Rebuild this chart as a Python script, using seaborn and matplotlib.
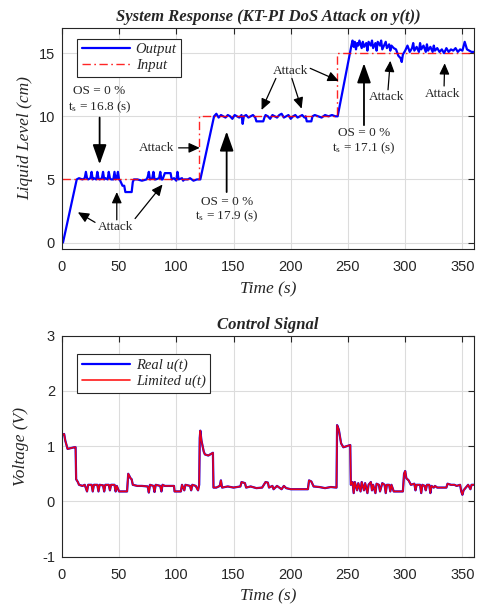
import numpy as np
import pandas as pd
import seaborn as sns
import matplotlib
matplotlib.use('Agg')
import matplotlib.pyplot as plt

# ---- data ----
# system output y(t)
y_time = [0, 1, 13, 15, 18, 20, 21, 22, 23, 25, 26, 27, 28, 30, 31, 32, 33, 35, 36, 37, 38,
          40, 41, 42, 43, 45, 46, 47, 48, 49, 50, 51, 53, 54.5, 55.5, 57, 61, 62, 63, 66, 70,
          74, 75, 76, 77, 79, 80, 81, 82, 85, 86, 87, 88, 90, 91, 95, 96, 98, 100, 101, 102,
          105, 106, 107, 110, 112, 115, 118, 121,
          133, 135, 137, 139, 141, 143, 145, 147, 149, 151, 153, 155, 157, 158, 159, 161, 163,
          165, 167, 169, 170, 171, 176, 177, 178, 180, 182, 184, 186, 188, 190, 192, 194, 196,
          198, 200, 202, 204, 206, 208, 210, 212, 213, 214, 218, 219, 221, 224, 227, 230, 233,
          236, 239, 241,
          253, 254, 255, 256, 257, 258, 259, 260, 262, 263, 264, 266, 267, 268, 270, 271, 272,
          274, 275, 276, 278, 279, 280, 282, 283, 284, 286, 287, 288, 290, 292, 294, 296, 297,
          298, 300, 302, 304, 306, 307, 308, 310, 312, 313, 314, 316, 318, 319, 320, 322, 324,
          325, 326, 328, 330, 332, 334, 336, 338, 340, 342, 344, 346, 348, 350, 352, 354, 356,
          358, 360]
y_value = [0, 0, 5.0, 5.1, 5.0, 5.1, 5.6, 5.1, 5.0, 5.1, 5.6, 5.0, 5.1, 5.0, 5.6, 5.1, 5.0, 5.1, 5.6, 5.0, 5.1,
           5.0, 5.6, 5.1, 5.0, 5.0, 5.6, 5.0, 5.1, 5.6, 5.0, 4.9, 4.5, 4.5, 4.0, 4.0, 4.0, 4.8, 5.0, 5.0, 4.9,
           5.0, 5.2, 5.6, 5.0, 5.1, 5.6, 5.0, 5.0, 5.1, 5.6, 5.0, 5.0, 5.5, 5.5, 5.5, 5.0, 5.1, 4.9, 5.6, 5.0,
           5.1, 4.9, 5.0, 5.0, 5.1, 4.9, 5.0, 5.0,
           10.0, 10.2, 9.9, 10.1, 10.0, 9.9, 10.1, 10.0, 9.8, 10.1, 10.0, 9.9, 10.1, 9.4, 10.0, 10.1, 9.9,
           10.0, 10.1, 9.9, 9.6, 9.6, 9.6, 9.9, 10.1, 10.0, 9.8, 10.1, 10.0, 9.9, 10.1, 10.2, 9.9, 10.0,
           10.1, 9.8, 10.0, 10.1, 9.9, 10.0, 10.1, 9.9, 10.0, 9.6, 9.6, 10.0, 10.1, 10.0, 9.9, 10.1, 10.0,
           10.1, 10.0, 10.0,
           15.6, 16.0, 15.5, 15.9, 15.3, 15.8, 15.6, 16.0, 15.4, 15.9, 15.5, 15.8, 15.2, 15.9, 15.6, 16.0, 15.4,
           15.8, 15.2, 15.9, 15.6, 16.0, 15.3, 15.7, 15.9, 15.4, 15.7, 15.2, 15.6, 15.4, 15.3, 14.8, 14.6, 14.3,
           14.9, 15.2, 15.6, 15.1, 15.4, 15.8, 15.2, 15.5, 15.1, 15.8, 15.3, 15.6, 15.1, 15.7, 15.2, 15.5, 15.1,
           15.6, 15.2, 15.4, 15.1, 15.3, 15.0, 15.4, 15.1, 15.3, 15.2, 15.4, 15.1, 15.3, 15.2, 15.9, 15.3, 15.2,
           15.1, 15.1]

# reference input r(t)
r_time = [0, 120, 240, 360]
r_value = [5, 10, 15, 15]

# control signal u(t) (real and limited overlap)
u_time = [0, 2, 3, 5, 11, 12, 12.5, 14, 15, 18, 20, 22, 23, 26, 27, 28, 31, 32, 33, 36, 37, 38,
          41, 42, 43, 46, 47, 48, 50, 57, 58, 60, 61, 62, 66, 70, 75, 76, 77, 80, 81, 82, 86, 87,
          88, 90, 98, 98.5, 104, 105, 107, 108, 112, 113, 114, 117, 119, 120, 120.5, 121, 122,
          124, 125, 128, 132, 132.5, 135, 138, 139, 140, 145, 150, 156, 157, 160, 161, 165, 170,
          175, 178, 180, 181, 184, 185, 188, 190, 192, 194, 196, 200, 215, 216, 218, 220, 225,
          230, 235, 240, 240.5, 242, 244, 246, 252, 252.5, 254, 255, 256, 258, 259, 261, 262,
          264, 265, 267, 268, 270, 271, 272, 274, 275, 277, 278, 280, 282, 283, 284, 286, 287,
          288, 290, 298, 299, 300, 301, 303, 305, 308, 309, 310, 313, 314, 315, 317, 318, 319,
          321, 322, 323, 325, 326, 328, 330, 336, 337, 340, 343, 345, 348, 349, 350, 351, 353,
          355, 357, 358, 360]
u_value = [1.2, 1.22, 1.1, 0.95, 0.98, 0.98, 0.4, 0.35, 0.3, 0.28, 0.3, 0.18, 0.3, 0.3, 0.18, 0.3, 0.3, 0.18, 0.3, 0.29, 0.18, 0.3,
           0.3, 0.2, 0.3, 0.3, 0.18, 0.28, 0.18, 0.18, 0.5, 0.42, 0.4, 0.3, 0.28, 0.28, 0.27, 0.16, 0.3, 0.28, 0.17, 0.3, 0.28, 0.18,
           0.3, 0.28, 0.28, 0.18, 0.18, 0.3, 0.2, 0.3, 0.28, 0.2, 0.3, 0.28, 0.2, 0.3, 1.15, 1.28, 1.1,
           0.9, 0.85, 0.83, 0.88, 0.25, 0.25, 0.28, 0.38, 0.25, 0.27, 0.25, 0.27, 0.35, 0.33, 0.25, 0.27, 0.24,
           0.25, 0.35, 0.34, 0.25, 0.28, 0.22, 0.28, 0.25, 0.22, 0.28, 0.24, 0.22, 0.22, 0.38, 0.36, 0.27, 0.26,
           0.24, 0.26, 0.25, 1.38, 1.3, 1.05, 0.98, 1.02, 0.3, 0.35, 0.15, 0.35, 0.2, 0.33, 0.18, 0.35,
           0.2, 0.33, 0.15, 0.3, 0.35, 0.2, 0.3, 0.15, 0.32, 0.3, 0.18, 0.33, 0.3, 0.15, 0.3, 0.3, 0.18,
           0.3, 0.18, 0.18, 0.5, 0.55, 0.42, 0.38, 0.3, 0.32, 0.2, 0.3, 0.3, 0.15, 0.3, 0.28, 0.2, 0.3,
           0.3, 0.15, 0.28, 0.25, 0.28, 0.25, 0.25, 0.25, 0.32, 0.3, 0.3, 0.28, 0.3, 0.18, 0.12, 0.2, 0.25,
           0.3, 0.22, 0.3, 0.3]

y_df = pd.DataFrame({'t': y_time, 'y': y_value})
r_df = pd.DataFrame({'t': r_time, 'r': r_value})
u_df = pd.DataFrame({'t': u_time, 'u': u_value})

# ---- style ----
sns.set_style('white')
plt.rcParams['font.family'] = ['Liberation Sans', 'DejaVu Sans']
plt.rcParams['mathtext.default'] = 'regular'
plt.rcParams['axes.unicode_minus'] = False
serif = ['Liberation Serif', 'DejaVu Serif']

fig = plt.figure(figsize=(4.87, 6.07), dpi=100)
ax1 = fig.add_axes([0.127, 0.590, 0.846, 0.364])
ax2 = fig.add_axes([0.127, 0.083, 0.846, 0.364])


def matlab_axes(ax):
    ax.grid(True, color='#dcdcdc', lw=0.8)
    ax.set_axisbelow(True)
    ax.tick_params(direction='in', top=True, right=True, labelsize=10.5,
                   length=4, width=0.8, colors='#262626')
    ax.tick_params(axis='x', pad=8)
    ax.tick_params(axis='y', pad=5)
    for s in ax.spines.values():
        s.set_color('#262626')
        s.set_linewidth(0.8)
    ax.set_xlim(0, 360)
    ax.set_xticks([0, 50, 100, 150, 200, 250, 300, 350])
    ax.set_xlabel('Time (s)', family=serif, style='italic', fontsize=12.5,
                  color='#262626', labelpad=5)


# 1. System response
sns.lineplot(data=y_df, x='t', y='y', ax=ax1, color='#0000ff', lw=1.6,
             estimator=None, sort=False, label='Output')
sns.lineplot(data=r_df, x='t', y='r', ax=ax1, color='#ff0000', lw=1.0,
             estimator=None, drawstyle='steps-post', dashes=False, label='Input')
ax1.lines[-1].set_linestyle((0, (6, 2.5, 1.2, 2.5)))
ax1.lines[-1].set_alpha(0.85)
matlab_axes(ax1)
ax1.set_ylim(-0.5, 17)
ax1.set_yticks([0, 5, 10, 15])
ax1.set_ylabel('Liquid Level (cm)', family=serif, style='italic', fontsize=12.5,
               color='#262626', labelpad=4)
ax1.set_title('System Response (KT-PI DoS Attack on y(t))', family=serif,
              style='italic', weight='bold', fontsize=12, pad=5)
leg1 = ax1.legend(loc='upper left', bbox_to_anchor=(0.02, 0.985), fancybox=False,
                  edgecolor='#262626', framealpha=1, handlelength=3.3,
                  borderpad=0.3, labelspacing=0.2, handletextpad=0.4,
                  prop={'family': serif, 'style': 'italic', 'size': 10.5})
leg1.get_frame().set_linewidth(0.8)

note = dict(family=serif, fontsize=9.5, ha='center', va='center')
big = dict(arrowstyle='-|>,head_length=0.85,head_width=0.3', color='k', lw=1.3,
           mutation_scale=14, shrinkA=0, shrinkB=0)
small = dict(arrowstyle='-|>,head_length=0.55,head_width=0.25', color='k', lw=0.9,
             mutation_scale=12, shrinkA=0, shrinkB=0)

# settling annotations
ax1.text(33, 12.0, 'OS = 0 %', **note)
ax1.text(33, 10.75, r't$_{s}$ = 16.8 (s)', **note)
ax1.annotate('', xy=(33, 6.2), xytext=(33, 9.9), arrowprops=big)
ax1.text(144, 3.2, 'OS = 0 %', **note)
ax1.text(144, 2.05, r't$_{s}$ = 17.9 (s)', **note)
ax1.annotate('', xy=(144, 8.8), xytext=(144, 4.0), arrowprops=big)
ax1.text(264, 8.7, 'OS = 0 %', **note)
ax1.text(264, 7.5, r't$_{s}$ = 17.1 (s)', **note)
ax1.annotate('', xy=(264, 14.2), xytext=(264, 9.3), arrowprops=big)

# attack annotations
ax1.text(47, 1.2, 'Attack', **note)
ax1.annotate('', xy=(14, 2.4), xytext=(29, 1.6), arrowprops=small)
ax1.annotate('', xy=(48, 4.0), xytext=(48, 1.8), arrowprops=small)
ax1.annotate('', xy=(88, 4.6), xytext=(64, 1.9), arrowprops=small)
ax1.text(83, 7.5, 'Attack', **note)
ax1.annotate('', xy=(120.5, 7.5), xytext=(102, 7.5), arrowprops=small)
ax1.text(200, 13.6, 'Attack', **note)
ax1.annotate('', xy=(174.5, 10.5), xytext=(187, 13.0), arrowprops=small)
ax1.annotate('', xy=(209.5, 10.6), xytext=(201, 13.0), arrowprops=small)
ax1.annotate('', xy=(242, 12.8), xytext=(217, 13.8), arrowprops=small)
ax1.text(284, 11.5, 'Attack', **note)
ax1.annotate('', xy=(287, 14.4), xytext=(285, 12.1), arrowprops=small)
ax1.text(333, 11.8, 'Attack', **note)
ax1.annotate('', xy=(334.5, 14.2), xytext=(334, 12.4), arrowprops=small)

# 2. Control signal
sns.lineplot(data=u_df, x='t', y='u', ax=ax2, color='#0000ff', lw=1.6,
             estimator=None, sort=False, label='Real u(t)')
sns.lineplot(data=u_df, x='t', y='u', ax=ax2, color='#ff0000', lw=1.2,
             estimator=None, sort=False, label='Limited u(t)')
ax2.lines[-1].set_alpha(0.9)
matlab_axes(ax2)
ax2.set_ylim(-1, 3)
ax2.set_yticks([-1, 0, 1, 2, 3])
ax2.set_ylabel('Voltage (V)', family=serif, style='italic', fontsize=12.5,
               color='#262626', labelpad=9)
ax2.set_title('Control Signal', family=serif, style='italic', weight='bold',
              fontsize=12, pad=5)
leg2 = ax2.legend(loc='upper left', bbox_to_anchor=(0.02, 0.95), fancybox=False,
                  edgecolor='#262626', framealpha=1, handlelength=3.3,
                  borderpad=0.3, labelspacing=0.2, handletextpad=0.4,
                  prop={'family': serif, 'style': 'italic', 'size': 10.5})
leg2.get_frame().set_linewidth(0.8)

plt.savefig('out.png', dpi=100)
plt.close()
